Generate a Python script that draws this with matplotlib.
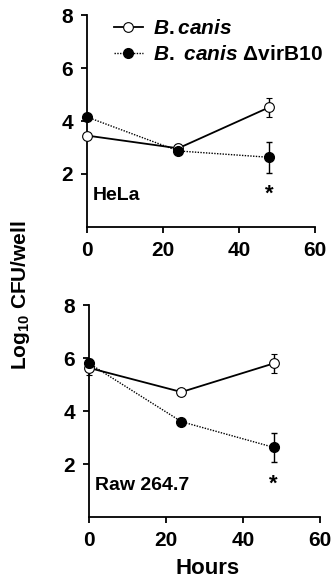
import matplotlib
matplotlib.use("Agg")
import matplotlib.pyplot as plt
from matplotlib.lines import Line2D

plt.rcParams['font.family'] = ['Liberation Sans', 'DejaVu Sans']
plt.rcParams['font.weight'] = 'bold'
plt.rcParams['mathtext.fontset'] = 'custom'
plt.rcParams['mathtext.rm'] = 'Liberation Sans:bold'
plt.rcParams['mathtext.it'] = 'Liberation Sans:bold:italic'
plt.rcParams['mathtext.bf'] = 'Liberation Sans:bold'

hours = [0, 24, 48]
hela_wt = [3.45, 2.97, 4.52]
hela_wt_err = [0.0, 0.15, 0.35]
hela_mut = [4.15, 2.87, 2.63]
hela_mut_err = [0.0, 0.0, 0.58]
raw_wt = [5.63, 4.72, 5.8]
raw_wt_err = [0.25, 0.0, 0.35]
raw_mut = [5.8, 3.6, 2.63]
raw_mut_err = [0.15, 0.0, 0.55]
panels = ["HeLa", "Raw 264.7"]
series = [r'$B.canis$', r'$B.\ canis$ $\Delta$virB10']
xticks = [0, 20, 40, 60]
yticks = [2, 4, 6, 8]

fig = plt.figure(figsize=(3.35, 5.79), dpi=100)
ax1 = fig.add_axes([0.26, 0.608, 0.68, 0.366])
ax2 = fig.add_axes([0.266, 0.107, 0.689, 0.366])

WT_STYLE = dict(color='black', lw=1.3, marker='o', ms=7, mfc='white', mec='black', mew=0.8)
MUT_STYLE = dict(color='black', lw=1.0, ls=(0, (1, 1)), marker='o', ms=7, mfc='black', mec='black')

def draw(ax, wt, wte, mut, mute, label, legend=False):
    ax.errorbar(hours, wt, yerr=wte, capsize=2.5, elinewidth=1, capthick=1,
                clip_on=False, zorder=3, **WT_STYLE)
    ax.errorbar(hours, mut, yerr=mute, capsize=2.5, elinewidth=1, capthick=1,
                clip_on=False, zorder=4, **MUT_STYLE)
    ax.set_xlim(0, 60)
    ax.set_ylim(0, 8)
    ax.set_xticks(xticks)
    ax.set_yticks(yticks)
    ax.spines['top'].set_visible(False)
    ax.spines['right'].set_visible(False)
    ax.spines['left'].set_linewidth(1.3)
    ax.spines['bottom'].set_linewidth(1.3)
    ax.tick_params(direction='out', length=4, width=1.3, labelsize=15, pad=6)
    for t in ax.get_xticklabels() + ax.get_yticklabels():
        t.set_fontweight('bold')
    ax.text(48, 1.25, '*', fontsize=16, ha='center', va='center', fontweight='bold')
    ax.text(1.6, 1.2, label, fontsize=14, ha='left', va='center', fontweight='bold')
    if legend:
        handles = [Line2D([], [], **WT_STYLE), Line2D([], [], **MUT_STYLE)]
        ax.legend(handles, series, loc='upper left', bbox_to_anchor=(0.08, 1.02),
                  frameon=False, fontsize=15, handlelength=1.4, handletextpad=0.5,
                  labelspacing=0.35, borderaxespad=0)

draw(ax1, hela_wt, hela_wt_err, hela_mut, hela_mut_err, panels[0], legend=True)
draw(ax2, raw_wt, raw_wt_err, raw_mut, raw_mut_err, panels[1])

fig.text(0.62, 1 - 568 / 579, 'Hours', fontsize=16, fontweight='bold',
         ha='center', va='center')
fig.text(0.06, 0.49, r'Log$_{10}$ CFU/well', rotation=90, fontsize=15,
         fontweight='bold', ha='center', va='center')

fig.savefig('out.png', dpi=100)
